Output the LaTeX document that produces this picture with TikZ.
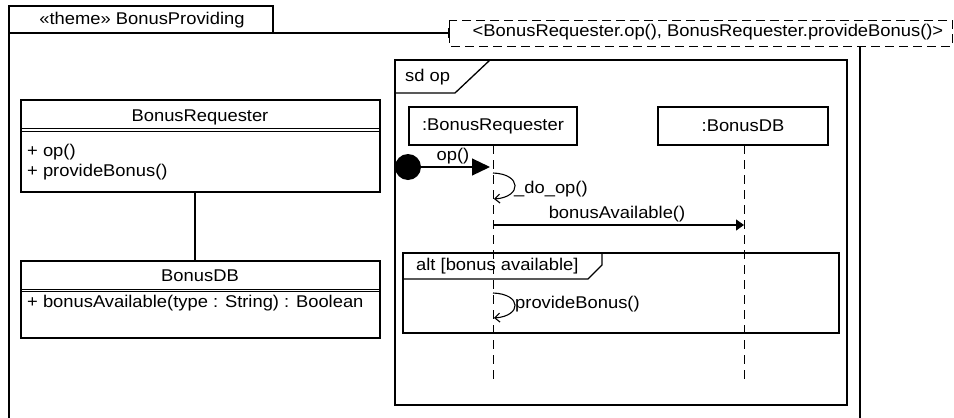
\documentclass[tikz,border=0pt]{standalone}
\usepackage{fontspec}
\setmainfont{Liberation Sans}[FakeStretch=1.08]
\usetikzlibrary{arrows.meta}
\tikzset{
  ln/.style={line width=1.3pt, draw=black},
  lbl/.style={inner sep=0pt, font=\fontsize{17}{19}\selectfont},
  lifeline/.style={line width=1pt, dash pattern=on 9pt off 6pt},
  boxnode/.style={ln, inner sep=0pt, fill=white},
}
\begin{document}
\begin{tikzpicture}[x=1pt,y=-1pt]
\useasboundingbox (0,0) rectangle (954,418);
\begin{scope}
\clip (0,0) rectangle (954,418);
% theme package frame
\draw[ln] (9,430) -- (9,33) -- (449,33);
\draw[ln] (860,46) -- (860,430);
\draw[ln] (9,33) -- (9,6) -- (273,6) -- (273,33);
\node[lbl] (theme) at (142,20) {«theme» BonusProviding};
\draw[ln] (449,28) -- (449,38);
% template parameter box
\draw[line width=1pt, dash pattern=on 9pt off 5pt] (449,20) rectangle (952,46);
\node[lbl] (param) at (708,32) {<BonusRequester.op(), BonusRequester.provideBonus()>};
\end{scope}

% class BonusRequester
\draw[ln] (21,100) rectangle (380,192);
\draw[line width=1pt] (21,128.5) -- (380,128.5) (21,131) -- (380,131);
\node[lbl] (req) at (200,117) {BonusRequester};
\node[lbl, anchor=west] (reqop) at (27,152) {+ op()};
\node[lbl, anchor=west] (reqpb) at (27,172) {+ provideBonus()};
\coordinate (reqbot) at (195,192);

% class BonusDB
\draw[ln] (21,261) rectangle (380,338);
\draw[line width=1pt] (21,289) -- (380,289) (21,291.5) -- (380,291.5);
\node[lbl] (db) at (200,276) {BonusDB};
\node[lbl, anchor=west] (dbop) at (27,303) {+ bonusAvailable(type : String) : Boolean};
\coordinate (dbtop) at (195,261);
\draw[line width=1.1pt] (reqbot) -- (dbtop);

% interaction frame
\draw[ln] (395,60) rectangle (847,405);
\draw[ln] (395,93) -- (455,93) -- (490,60);
\node[lbl, anchor=west] (sd) at (405,77) {sd op};

% lifelines
\node[boxnode, minimum width=168pt, minimum height=38pt, lbl] (ll1) at (493,126) {:BonusRequester};
\node[boxnode, minimum width=170pt, minimum height=38pt, lbl] (ll2) at (743,126) {:BonusDB};
\coordinate (e1) at (493,382);
\coordinate (e2) at (744,382);
\draw[lifeline] (493,145) -- (e1);
\draw[lifeline] (744,145) -- (e2);

% found message op()
\node[circle, fill=black, minimum size=26pt, inner sep=0pt] (found) at (408,167) {};
\coordinate (m1) at (490,167);
\draw[line width=1.2pt, -{Triangle[length=18pt,width=17pt]}] (found.center) -- (m1);
\node[lbl] (oplbl) at (453,156) {op()};

% self message _do_op()
\coordinate (s1a) at (493,173);
\coordinate (s1b) at (494,199);
\draw[line width=1.1pt, -{Straight Barb[length=5pt,width=9pt]}] (s1a) .. controls (522,174) and (522,197) .. (s1b);
\node[lbl, anchor=west] (doop) at (514,189) {\_do\_op()};

% bonusAvailable()
\coordinate (m2a) at (493,225);
\coordinate (m2b) at (744,225);
\draw[line width=1.1pt, -{Triangle[length=8pt,width=11pt]}] (m2a) -- (m2b);
\node[lbl] (balbl) at (617,214) {bonusAvailable()};

% alt fragment
\draw[ln] (403,253) rectangle (839,333);
\draw[ln] (403,279) -- (588,279) -- (602,265) -- (602,253);
\node[lbl, anchor=west] (alt) at (416,266) {alt [bonus available]};

% self message provideBonus()
\coordinate (s2a) at (493,293);
\coordinate (s2b) at (494,318);
\draw[line width=1.1pt, -{Straight Barb[length=5pt,width=9pt]}] (s2a) .. controls (522,294) and (522,316) .. (s2b);
\node[lbl, anchor=west] (pblbl) at (515,304) {provideBonus()};
\end{tikzpicture}
\end{document}
